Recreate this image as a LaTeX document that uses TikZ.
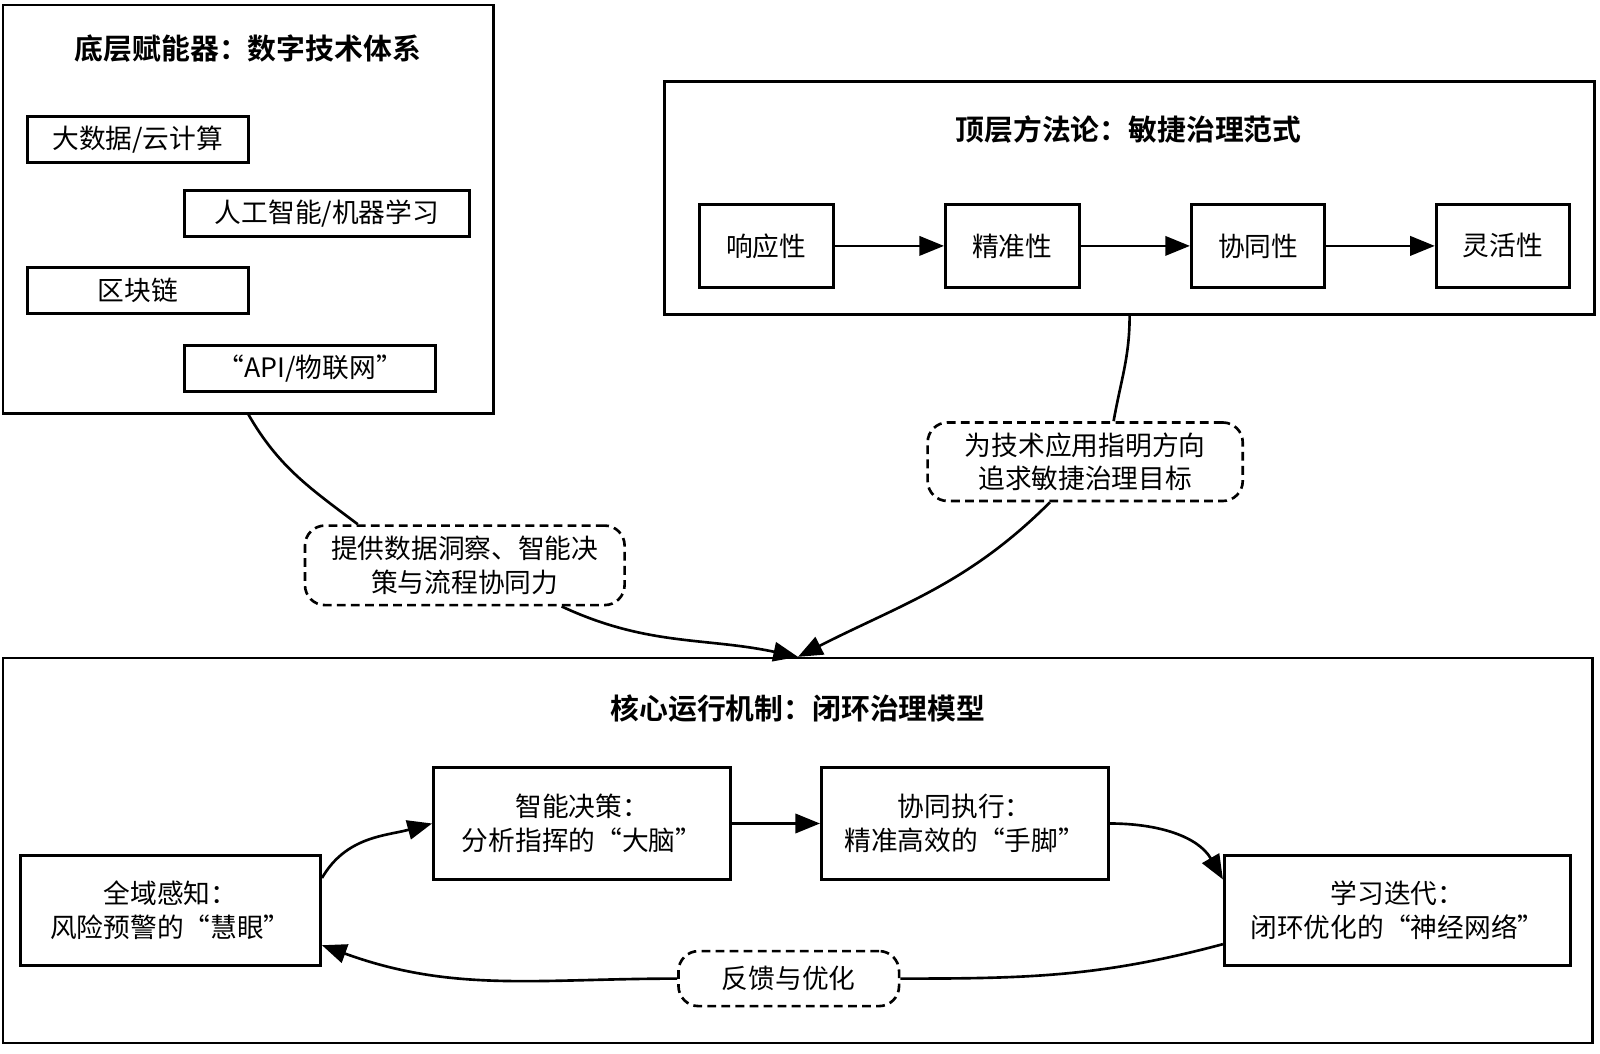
\documentclass[tikz,border=0pt]{standalone}
\usepackage{fontspec}
\setmainfont{Noto Sans CJK SC}[BoldFont={Noto Sans CJK SC Bold}]
\usetikzlibrary{arrows.meta}
\begin{document}
\begin{tikzpicture}[
    every node/.style={font=\fontsize{15.2}{19.2}\selectfont, align=center},
    frame/.style={draw=black, line width=1.5pt, inner sep=0pt},
    box/.style={draw=black, line width=1.7pt, inner sep=0pt},
    tag/.style={draw=black, line width=1.5pt, dash pattern=on 5pt off 3pt,
                rounded corners=0.4cm, fill=white, inner sep=0pt},
    title/.style={font=\fontsize{16.4}{20}\selectfont\bfseries},
    link/.style={line width=1.5pt},
    arrow/.style={line width=1.5pt, -{Triangle[length=14pt,width=11pt]}}
]
    \useasboundingbox (0,0) rectangle (31.987,-21.053);

    % digital technology base
    \node[frame, minimum width=9.81cm, minimum height=8.16cm] (techbase) at (4.967,-4.182) {};
    \node[title] (techtitle) at (4.957,-0.979) {底层赋能器：数字技术体系};
    \node[box, minimum width=4.41cm, minimum height=0.92cm] (bigdata) at (2.754,-2.785) {大数据/云计算};
    \node[box, minimum width=5.69cm, minimum height=0.92cm] (ai) at (6.538,-4.274) {人工智能/机器学习};
    \node[box, minimum width=4.41cm, minimum height=0.92cm] (chain) at (2.754,-5.814) {区块链};
    \node[box, minimum width=5.02cm, minimum height=0.92cm] (iot) at (6.202,-7.364) {“API/物联网”};

    % agile governance paradigm
    \node[frame, minimum width=18.6cm, minimum height=4.65cm] (method) at (22.583,-3.958) {};
    \node[title] (methodtitle) at (22.562,-2.591) {顶层方法论：敏捷治理范式};
    \node[box, minimum width=2.67cm, minimum height=1.65cm] (resp) at (15.32,-4.916) {响应性};
    \node[box, minimum width=2.67cm, minimum height=1.65cm] (prec) at (20.237,-4.916) {精准性};
    \node[box, minimum width=2.67cm, minimum height=1.65cm] (coop) at (25.153,-4.916) {协同性};
    \node[box, minimum width=2.67cm, minimum height=1.65cm] (flex) at (30.049,-4.916) {灵活性};

    \draw[arrow] (resp) -- (prec);
    \draw[arrow] (prec) -- (coop);
    \draw[arrow] (coop) -- (flex);

    % closed loop model
    \node[frame, minimum width=31.78cm, minimum height=7.69cm] (core) at (15.953,-17.003) {};
    \node[title] (coretitle) at (15.953,-14.158) {核心运行机制：闭环治理模型};
    \node[box, minimum width=6.0cm, minimum height=2.2cm] (sense) at (3.407,-18.197) {全域感知：\\风险预警的“慧眼”};
    \node[box, minimum width=5.94cm, minimum height=2.24cm] (decide) at (11.638,-16.463) {智能决策：\\分析指挥的“大脑”};
    \node[box, minimum width=5.73cm, minimum height=2.24cm] (act) at (19.288,-16.463) {协同执行：\\精准高效的“手脚”};
    \node[box, minimum width=6.92cm, minimum height=2.2cm] (learn) at (27.938,-18.197) {学习迭代：\\闭环优化的“神经网络”};
    \node[tag, minimum width=4.41cm, minimum height=1.1cm] (feedback) at (15.769,-19.564) {反馈与优化};

    % labels between layers
    \node[tag, minimum width=6.39cm, minimum height=1.59cm] (support) at (9.292,-11.302) {提供数据洞察、智能决\\策与流程协同力};
    \node[tag, minimum width=6.3cm, minimum height=1.57cm] (guide) at (21.695,-9.231) {为技术应用指明方向\\追求敏捷治理目标};

    \draw[link] (techbase.south) to[out=-60,in=143] (support.159);
    \draw[arrow] (support.-23) to[out=-25,in=168] (core.north);
    \draw[link] (method.south) to[out=-90,in=80] (guide.55);
    \draw[arrow] (guide.-131) to[out=-135,in=27] (core.north);

    \draw[arrow] (sense.12) to[out=60,in=-165] (decide.west);
    \draw[arrow] (decide) -- (act);
    \draw[arrow] (act.east) to[out=0,in=120] (learn.170);
    \draw[link] (learn.191) to[out=195,in=0] (feedback.east);
    \draw[arrow] (feedback.west) to[out=180,in=-20] (sense.-13);
\end{tikzpicture}
\end{document}
